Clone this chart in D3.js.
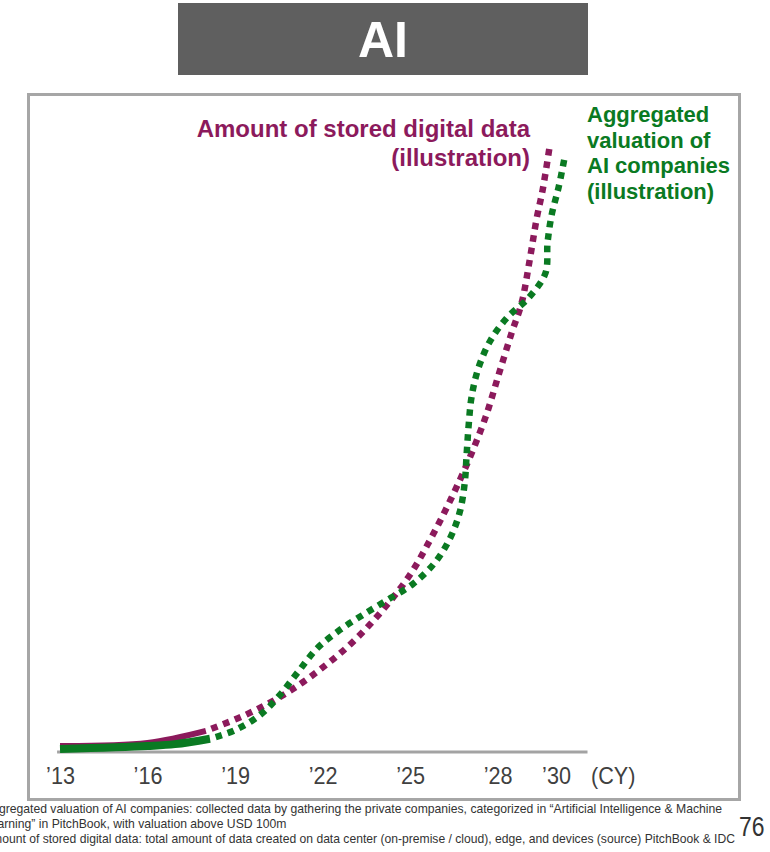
<!DOCTYPE html>
<html>
<head>
<meta charset="utf-8">
<script src="https://cdn.jsdelivr.net/npm/d3@7/dist/d3.min.js"></script>
<style>
  html, body { margin: 0; padding: 0; background: #fff; }
  svg { display: block; }
</style>
</head>
<body>
<svg id="chart" width="770" height="852"></svg>
<script>
// Calendar-year ticks shown under the axis
const tickYears = [2013, 2016, 2019, 2022, 2025, 2028, 2030];
const tickLabels = ["’13", "’16", "’19", "’22", "’25", "’28", "’30"];

// Amount of stored digital data (index, illustration): observed part, then outlook
const storedDataYears  = [2013, 2016, 2018.0];
const storedDataValues = [1.0, 1.5, 3.5];
const storedOutlookYears  = [2018.0, 2019.34, 2020.64, 2021.9, 2023.03, 2024.06, 2024.99, 2025.74, 2026.42,
                             2027.04, 2027.59, 2028.03, 2028.48, 2028.82, 2029.1, 2029.34, 2029.54, 2029.78];
const storedOutlookValues = [3.5, 6.1, 9.4, 13.6, 18.2, 23.5, 29.3, 35.6, 42.1,
                             48.7, 55.5, 62.4, 69.4, 74.3, 81.5, 88.4, 93.0, 100.2];

// Aggregated valuation of AI companies (index, illustration): observed part, then outlook
const aiValuationYears  = [2013, 2016, 2016.94, 2018.14];
const aiValuationValues = [0.5, 1.0, 1.3, 2.2];
const aiOutlookYears  = [2018.14, 2018.99, 2019.85, 2020.53, 2021.15, 2021.8, 2022.59, 2023.38, 2024.23,
                         2025.09, 2025.84, 2026.36, 2026.7, 2026.87, 2026.94, 2027.01, 2027.11, 2027.35,
                         2027.76, 2028.34, 2029.06, 2029.64, 2029.71, 2029.85, 2030.09, 2030.29];
const aiOutlookValues = [2.2, 3.6, 6.1, 9.4, 13.2, 17.1, 20.2, 22.7, 25.2,
                         27.8, 31.3, 35.3, 39.7, 44.5, 49.5, 54.3, 58.9, 63.7,
                         68.2, 72.0, 75.2, 79.3, 84.3, 88.9, 93.5, 98.3];

const footnotes = [
  "Aggregated valuation of AI companies: collected data by gathering the private companies, categorized in “Artificial Intelligence & Machine",
  "Learning” in PitchBook, with valuation above USD 100m",
  "Amount of stored digital data: total amount of data created on data center (on-premise / cloud), edge, and devices (source) PitchBook & IDC"
];

const PURPLE = "#8c1a5c";
const GREEN = "#0a7a22";
const NARROW = "Liberation Sans Narrow, Arial Narrow, Liberation Sans, Arial, sans-serif";

// Squeeze a text horizontally to a fraction of its natural width
function condense(sel, k) {
  sel.each(function () {
    d3.select(this).attr("textLength", this.getComputedTextLength() * k)
      .attr("lengthAdjust", "spacingAndGlyphs");
  });
}

const svg = d3.select("#chart");

// Title banner
svg.append("rect").attr("x", 178).attr("y", 3).attr("width", 410).attr("height", 72).attr("fill", "#5f5f5f");
svg.append("text").attr("x", 383).attr("y", 57).attr("text-anchor", "middle")
  .attr("font-family", "Liberation Sans, Arial, sans-serif").attr("font-weight", "bold")
  .attr("font-size", 50).attr("fill", "#fff").text("AI");

// Chart frame
svg.append("rect").attr("x", 28.5).attr("y", 94.5).attr("width", 711).attr("height", 705)
  .attr("fill", "none").attr("stroke", "#a6a6a6").attr("stroke-width", 3);

const x = d3.scaleLinear().domain([2013, 2030]).range([60, 556]);
const y = d3.scaleLinear().domain([0, 100]).range([752, 148]);

// Baseline
svg.append("line").attr("x1", x(2012.9)).attr("x2", x(2031.08)).attr("y1", y(0)).attr("y2", y(0))
  .attr("stroke", "#a3a3a3").attr("stroke-width", 3);

// Year axis (labels only), in a condensed face
const axis = d3.axisBottom(x).tickValues(tickYears).tickSize(0).tickPadding(15)
  .tickFormat((d, i) => tickLabels[i]);
const gx = svg.append("g").attr("transform", `translate(0,${y(0)})`).call(axis);
gx.select(".domain").remove();
gx.selectAll(".tick text").attr("font-family", NARROW)
  .attr("font-size", 24).attr("fill", "#404040")
  .call(condense, 0.9);
svg.append("text").attr("x", 591).attr("y", 784)
  .attr("font-family", NARROW)
  .attr("font-size", 24).attr("fill", "#404040").text("(CY)")
  .call(condense, 0.9);

const line = d3.line().x(d => x(d[0])).y(d => y(d[1])).curve(d3.curveCatmullRom.alpha(0.5));
const zip = (a, b) => a.map((v, i) => [v, b[i]]);

// Stored data series: solid history, dotted outlook
svg.append("path").datum(zip(storedDataYears, storedDataValues)).attr("d", line)
  .attr("fill", "none").attr("stroke", PURPLE).attr("stroke-width", 6);
svg.append("path").datum(zip(storedOutlookYears, storedOutlookValues)).attr("d", line)
  .attr("fill", "none").attr("stroke", PURPLE).attr("stroke-width", 6.5)
  .attr("stroke-dasharray", "0 6 6.5 0");

// AI valuation series: solid history, dotted outlook
svg.append("path").datum(zip(aiValuationYears, aiValuationValues)).attr("d", line)
  .attr("fill", "none").attr("stroke", GREEN).attr("stroke-width", 8);
svg.append("path").datum(zip(aiOutlookYears, aiOutlookValues)).attr("d", line)
  .attr("fill", "none").attr("stroke", GREEN).attr("stroke-width", 6.5)
  .attr("stroke-dasharray", "0 6 6.5 0");

// Series labels
const purpleLabel = svg.append("text").attr("text-anchor", "end")
  .attr("font-family", "Liberation Sans, Arial, sans-serif").attr("font-weight", "bold")
  .attr("font-size", 24).attr("fill", PURPLE);
purpleLabel.append("tspan").attr("x", 530).attr("y", 137).text("Amount of stored digital data");
purpleLabel.append("tspan").attr("x", 530).attr("y", 166).text("(illustration)");

const greenLabel = svg.append("text")
  .attr("font-family", "Liberation Sans, Arial, sans-serif").attr("font-weight", "bold")
  .attr("font-size", 22).attr("fill", GREEN);
["Aggregated", "valuation of", "AI companies", "(illustration)"].forEach((t, i) => {
  greenLabel.append("tspan").attr("x", 587).attr("y", 122 + i * 25.5).text(t);
});

// Footnotes (condensed to the page width) and page number
const noteLeft = -16;
const notes = svg.append("g").attr("font-family", NARROW)
  .attr("font-size", 13).attr("fill", "#333");
const noteNodes = footnotes.map((t, i) =>
  notes.append("text").attr("x", noteLeft).attr("y", 813 + i * 15).text(t));
const squeeze = (722 - noteLeft) / noteNodes[0].node().getComputedTextLength();
noteNodes[0].attr("textLength", 722 - noteLeft);
noteNodes[1].attr("textLength", noteNodes[1].node().getComputedTextLength() * squeeze);
noteNodes[2].attr("textLength", 735 - noteLeft);
noteNodes.forEach(n => n.attr("lengthAdjust", "spacingAndGlyphs"));

svg.append("text").attr("x", 739).attr("y", 836)
  .attr("font-family", NARROW)
  .attr("font-size", 27).attr("fill", "#333").text("76")
  .call(condense, 0.85);
</script>
</body>
</html>
